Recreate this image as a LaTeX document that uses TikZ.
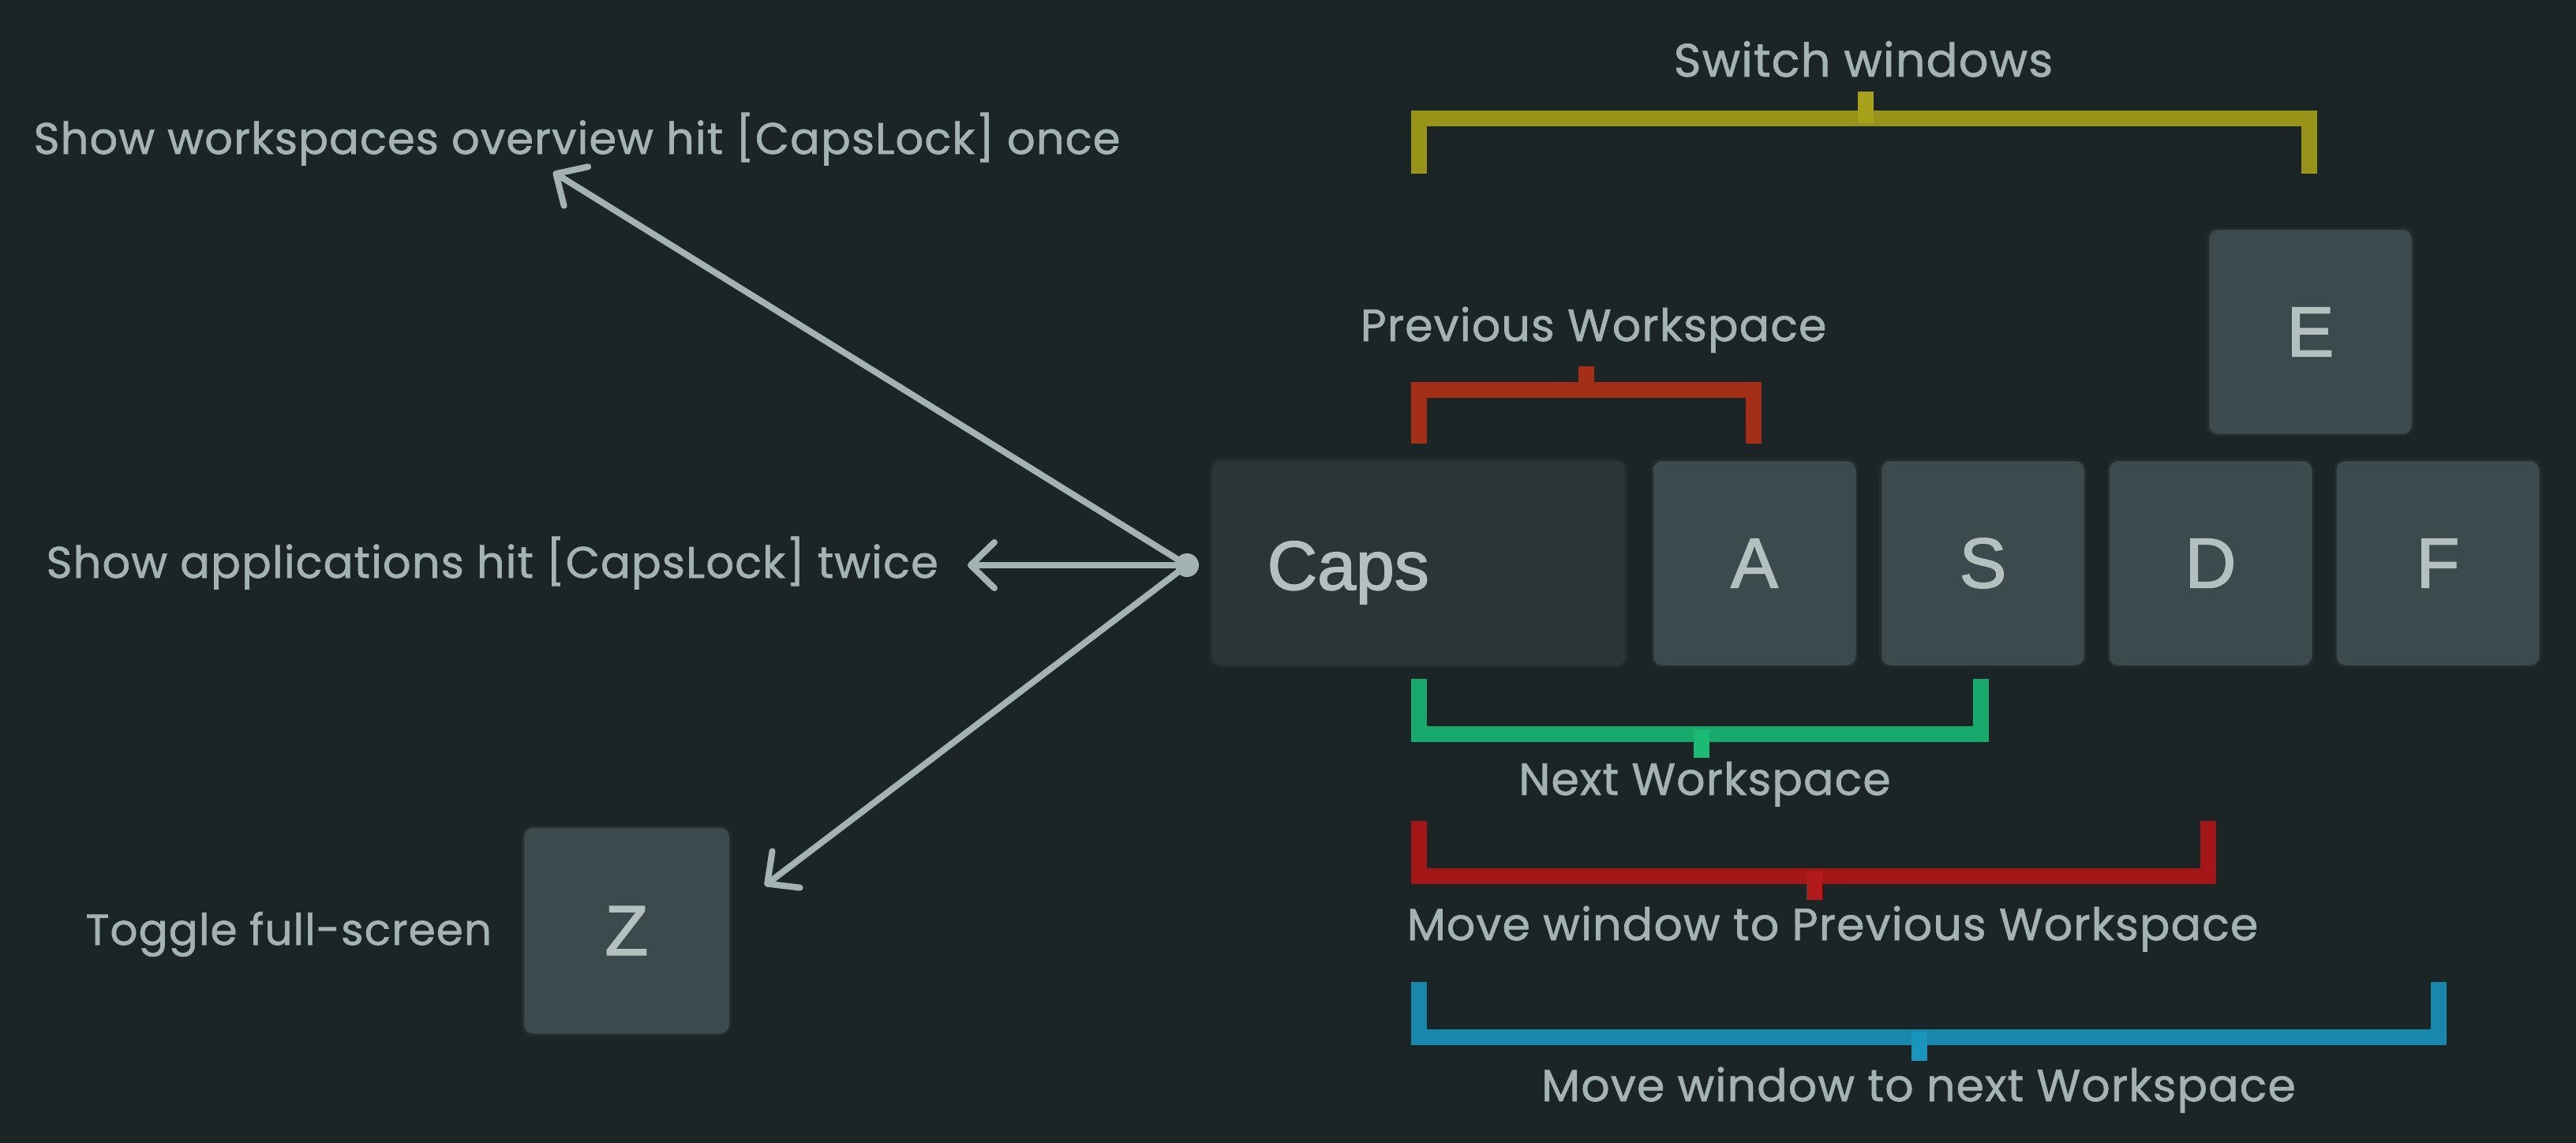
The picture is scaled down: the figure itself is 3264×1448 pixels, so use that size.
\documentclass[tikz,border=0pt]{standalone}
\usepackage{fontspec}
\setmainfont{Poppins}
\newfontfamily\lblfont{Poppins}[FakeBold=1.2,LetterSpace=2]
\newfontfamily\keyfont{Liberation Sans}[FakeBold=1.8]
\usetikzlibrary{arrows.meta}
\definecolor{bgc}{HTML}{1B2526}
\definecolor{txt}{HTML}{A5B2B2}
\definecolor{keytxt}{HTML}{B4C0C0}
\definecolor{capskey}{HTML}{2B3436}
\definecolor{lkey}{HTML}{3D4A4D}
\definecolor{keyedge}{HTML}{222C2E}
\definecolor{ycol}{HTML}{989419}
\definecolor{ytick}{HTML}{A8A21A}
\definecolor{ocol}{HTML}{A52E17}
\definecolor{otick}{HTML}{A52E17}
\definecolor{gcol}{HTML}{17AA6C}
\definecolor{gtick}{HTML}{1BBB74}
\definecolor{rcol}{HTML}{A31718}
\definecolor{rtick}{HTML}{B21A1B}
\definecolor{bcol}{HTML}{1787AC}
\definecolor{btick}{HTML}{1A95BD}
\begin{document}
\begin{tikzpicture}[x=0.1mm,y=-0.1mm,
  lbl/.style={text=txt,font=\lblfont\fontsize{16.2pt}{19pt}\selectfont,inner sep=0pt},
  lftlbl/.style={lbl,font=\lblfont\fontsize{15.9pt}{19pt}\selectfont},
  keybox/.style={fill=lkey,draw=keyedge,line width=0.3mm,rounded corners=1.3mm,
     minimum width=26mm,minimum height=26.2mm,inner sep=0pt,text=keytxt,
     font=\keyfont\fontsize{25.5pt}{28pt}\selectfont},
  keylbl/.style={text=keytxt,inner sep=0pt,font=\keyfont\fontsize{25pt}{28pt}\selectfont},
  brk/.style={line width=2mm,line join=miter},
  tck/.style={line width=2mm},
  arr/.style={draw=txt,line width=0.8mm,-{Straight Barb[length=3mm,width=5.8mm,round]}},
  hubdot/.style={circle,fill=txt,minimum size=3mm,inner sep=0pt}]
\fill[bgc] (0,0) rectangle (3264,1448);
\useasboundingbox (0,0) rectangle (3264,1448);

% keys
\node[keybox,fill=capskey,minimum width=52.7mm] (caps) at (1797.5,713.5) {};
\node[keylbl,anchor=base west] (capst) at (1605,747) {Caps};
\node[keybox] (ka) at (2223,713.5) {A};
\node[keybox] (ks) at (2512.5,713.5) {S};
\node[keybox] (kd) at (2801,713.5) {D};
\node[keybox] (kf) at (3089,713.5) {F};
\node[keybox] (ke) at (2927.5,420.5) {E};
\node[keybox,minimum width=26.3mm,minimum height=26.4mm] (kz) at (794,1179) {Z};

% brackets
\draw[brk,ycol] (1798,220) |- (2926,150) -- (2926,220);
\draw[tck,ytick] (2364,156) -- (2364,116);
\node[lbl,anchor=base,font=\lblfont\fontsize{16.8pt}{19pt}\selectfont] (lsw) at (2361,97) {Switch windows};

\draw[brk,ocol] (1798,562) |- (2222,494) -- (2222,562);
\draw[tck,otick] (2010,500) -- (2010,464);
\node[lbl,anchor=base] (lpw) at (2019,432) {Previous Workspace};

\draw[brk,gcol] (1798,860) |- (2510,930) -- (2510,860);
\draw[tck,gtick] (2156,924) -- (2156,960);
\node[lbl,anchor=base] (lnw) at (2160,1007) {Next Workspace};

\draw[brk,rcol] (1798,1040) |- (2798,1110) -- (2798,1040);
\draw[tck,rtick] (2299,1104) -- (2299,1140);
\node[lbl,anchor=base] (lmp) at (2322,1191) {Move window to Previous Workspace};

\draw[brk,bcol] (1798,1244) |- (3090,1314) -- (3090,1244);
\draw[tck,btick] (2432,1308) -- (2432,1344);
\node[lbl,anchor=base] (lmn) at (2431,1395) {Move window to next Workspace};

% left labels
\node[lftlbl,anchor=base west] (lov) at (42,195) {Show workspaces overview hit [CapsLock] once};
\node[lftlbl,anchor=base west] (lap) at (58,732) {Show applications hit [CapsLock] twice};
\node[lftlbl,anchor=base west,font=\lblfont\fontsize{15.6pt}{19pt}\selectfont] (lfs) at (108,1197) {Toggle full-screen};

% arrows
\node[hubdot] (hub) at (1504,716) {};
\coordinate (t1) at (701,218);
\coordinate (t2) at (1226,716);
\coordinate (t3) at (969,1122);
\draw[arr] (hub.center) -- (t1);
\draw[arr] (hub.center) -- (t2);
\draw[arr] (hub.center) -- (t3);
\end{tikzpicture}
\end{document}
